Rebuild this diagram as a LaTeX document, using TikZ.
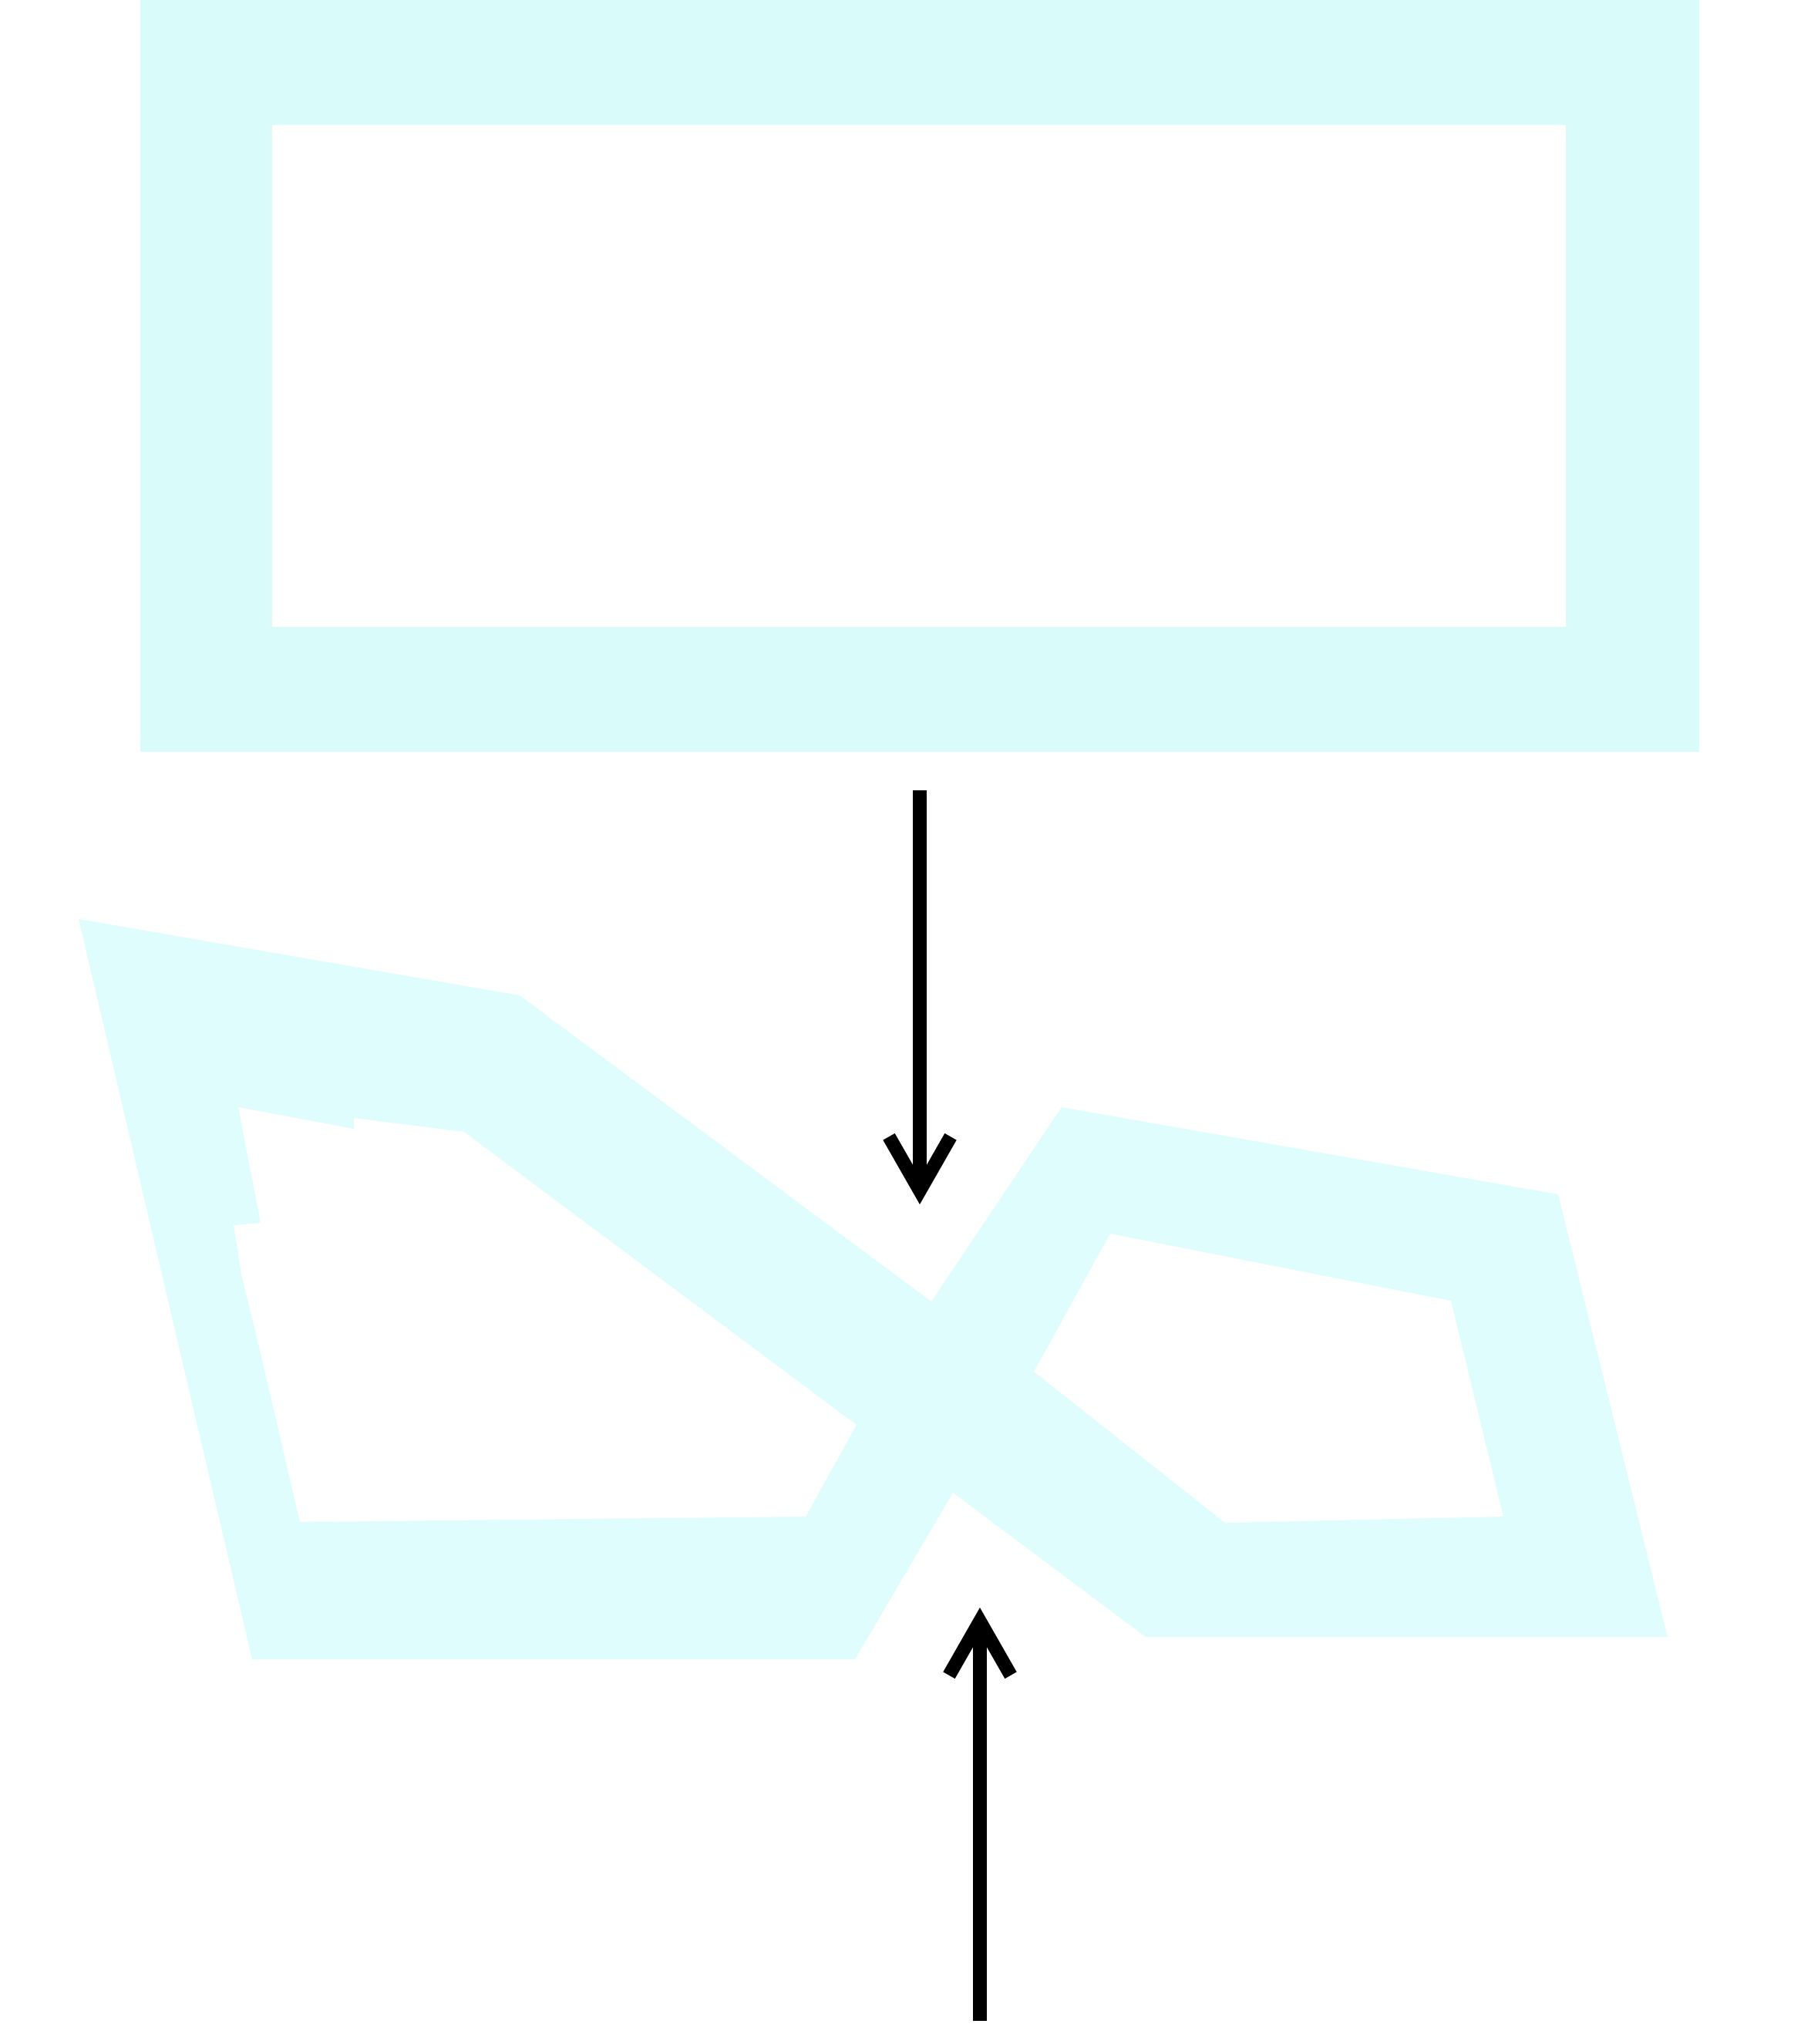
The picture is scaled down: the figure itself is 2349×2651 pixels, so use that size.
\documentclass[tikz,border=0pt]{standalone}
\usepackage{tikz}
\usetikzlibrary{arrows.meta}
\definecolor{framecyan}{RGB}{217,252,250}
\definecolor{twistcyan}{RGB}{224,253,253}

\begin{document}
\begin{tikzpicture}[
          x=0.01cm, y=-0.01cm,
          flatframe/.style={fill=framecyan, even odd rule},
          twistframe/.style={fill=twistcyan, even odd rule},
          push/.style={line width=5pt, -{Straight Barb[length=7mm, width=8mm, line cap=butt, line join=miter]}}
        ]
          \useasboundingbox (0,0) rectangle (2349,2651);
          % flat frame
          \path[flatframe] (182,0) rectangle (2204,975) (353,162) rectangle (2031,813);
          % twisted frame
          \path[twistframe] (102,1192) -- (674,1291) -- (1208,1688) -- (1377,1436) -- (2021,1549)
              -- (2163,2123) -- (1486,2123) -- (1236,1936) -- (1109,2152) -- (327,2152) -- cycle
            (309,1436) -- (459,1464) -- (459,1450) -- (602,1468) -- (1111,1848) -- (1045,1967)
              -- (389,1974) -- (332,1730) -- (313,1653) -- (303,1589) -- (338,1586) -- cycle
            (1440,1600) -- (1882,1687) -- (1950,1967) -- (1589,1975) -- (1341,1779) -- cycle;
          % arrows
          \coordinate (downstart) at (1193,1025);
          \coordinate (downend) at (1193,1562);
          \coordinate (upstart) at (1271,2621);
          \coordinate (upend) at (1271,2085);
          \draw[push] (downstart) -- (downend);
          \draw[push] (upstart) -- (upend);
        \end{tikzpicture}
\end{document}
